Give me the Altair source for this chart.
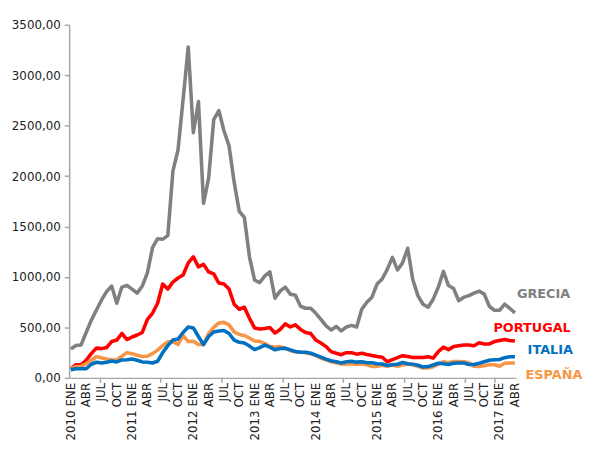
import altair as alt
import pandas as pd

# Monthly values, 2010 ENE .. 2017 ABR (88 months)
greece = [287, 320, 326, 450, 570, 670, 770, 855, 910, 740, 900, 915,
          880, 840, 910, 1040, 1290, 1380, 1375, 1410, 2050, 2260, 2760, 3280,
          2430, 2740, 1730, 1980, 2560, 2650, 2450, 2300, 1940, 1650, 1590, 1200,
          970, 945, 1010, 1050, 790, 860, 900, 830, 820, 710, 690, 690,
          640, 580, 515, 475, 510, 465, 505, 520, 505, 680, 750, 800,
          930, 980, 1075, 1195, 1070, 1140, 1285, 975, 815, 730, 700, 780,
          900, 1055, 915, 885, 765, 800, 815, 840, 860, 830, 710, 670,
          670, 730, 690, 645]
portugal = [90, 130, 130, 175, 240, 295, 290, 300, 360, 375, 440, 380,
            405, 425, 450, 580, 640, 740, 930, 880, 950, 990, 1020, 1140,
            1200, 1100, 1125, 1050, 1030, 940, 930, 880, 730, 680, 700, 590,
            495, 485, 490, 500, 445, 480, 535, 505, 525, 480, 450, 440,
            375, 345, 310, 260, 244, 230, 250, 250, 235, 244, 232, 222,
            212, 205, 160, 180, 200, 220, 212, 202, 202, 202, 210, 196,
            260, 305, 280, 310, 318, 326, 326, 318, 348, 336, 336, 360,
            370, 380, 370, 365]
italy = [80, 90, 90, 90, 135, 155, 148, 155, 168, 158, 178, 180,
         188, 175, 158, 155, 148, 165, 250, 320, 375, 385, 450, 505,
         495, 410, 330, 410, 455, 465, 470, 440, 375, 352, 345, 315,
         280, 300, 325, 305, 278, 292, 293, 278, 262, 254, 254, 244,
         225, 205, 185, 170, 160, 148, 160, 165, 156, 160, 150, 150,
         140, 137, 122, 130, 135, 152, 140, 135, 125, 108, 112, 128,
         145, 140, 133, 145, 147, 147, 132, 132, 145, 160, 175, 179,
         182, 200, 210, 210]
spain = [90, 112, 114, 140, 175, 210, 200, 188, 178, 180, 215, 250,
         240, 225, 212, 215, 240, 275, 320, 358, 358, 332, 420, 360,
         362, 330, 330, 440, 500, 545, 550, 525, 456, 430, 420, 395,
         365, 362, 340, 310, 305, 310, 295, 270, 260, 254, 250, 240,
         220, 195, 180, 160, 150, 138, 135, 140, 132, 137, 130, 114,
         114, 125, 115, 128, 115, 128, 138, 130, 114, 98, 98, 110,
         135, 160, 150, 162, 163, 160, 150, 115, 114, 120, 130, 130,
         115, 145, 147, 147]

countries = ["GRECIA", "PORTUGAL", "ESPAÑA", "ITALIA"]
series = [greece, portugal, spain, italy]
colors = ["#808080", "#ff0000", "#f79646", "#0070c0"]

tick_labels = []
for y in range(2010, 2018):
    for m in ["ENE", "ABR", "JUL", "OCT"]:
        tick_labels.append(f"{y} {m}" if m == "ENE" else m)
tick_labels = tick_labels[:30]  # up to 2017 ABR
tick_values = [3 * k for k in range(len(tick_labels))]
tick_marks = [5.8, 17.6, 29.6, 41.6, 53.4, 65.4, 77.3, 83.1]

label_y = [831, 489, 29, 274]
label_x = [87.4, 82.8, 89.1, 89.5]

rows = []
for name, vals in zip(countries, series):
    for i, v in enumerate(vals):
        rows.append({"pais": name, "t": i, "v": v})
df = pd.DataFrame(rows)

lab_df = pd.DataFrame({"pais": countries, "x": label_x, "y": label_y})
tick_df = pd.DataFrame({"t": tick_marks})
xlab_df = pd.DataFrame({"t": tick_values, "lab": tick_labels})

H = 358
x_scale = alt.Scale(domain=[-0.33, 87.21], nice=False, zero=False)
y_scale = alt.Scale(domain=[0, 3500], nice=False)
color_scale = alt.Scale(domain=countries, range=colors)

x_axis = alt.Axis(
    labels=False, ticks=False, domainColor="#a6a6a6", domainWidth=1.5,
    grid=False, title=None,
)
y_axis = alt.Axis(
    values=[0, 500, 1000, 1500, 2000, 2500, 3000, 3500],
    labelExpr="replace(format(datum.value, '.2f'), '.', ',')",
    labelFontSize=12, labelColor="#222222", labelFont="DejaVu Sans",
    tickSize=5, tickColor="#a6a6a6", tickWidth=1.5, labelPadding=4,
    domainColor="#a6a6a6", domainWidth=1.5, grid=False, title=None,
)

layers = []
for idx, name in enumerate(countries):
    base = alt.Chart(df).transform_filter(alt.datum.pais == name).mark_line(
        strokeWidth=3.6, color=colors[idx], strokeJoin="round"
    )
    if idx == 0:
        layer = base.encode(
            x=alt.X("t:Q", scale=x_scale, axis=x_axis),
            y=alt.Y("v:Q", scale=y_scale, axis=y_axis),
        )
    else:
        layer = base.encode(
            x=alt.X("t:Q", scale=x_scale),
            y=alt.Y("v:Q", scale=y_scale),
        )
    layers.append(layer)

ticks = alt.Chart(tick_df).mark_rule(color="#a6a6a6", strokeWidth=1.5).encode(
    x=alt.X("t:Q", scale=x_scale),
    y=alt.value(H),
    y2=alt.value(H + 5),
)

xlabels = alt.Chart(xlab_df).mark_text(
    angle=270, align="right", baseline="middle", fontSize=12,
    font="DejaVu Sans", color="#222222"
).encode(
    x=alt.X("t:Q", scale=x_scale),
    y=alt.value(H + 5),
    text="lab:N",
)

labels = alt.Chart(lab_df).mark_text(
    align="left", baseline="middle", fontSize=13, fontWeight="bold",
    font="DejaVu Sans"
).encode(
    x=alt.X("x:Q", scale=x_scale),
    y=alt.Y("y:Q", scale=y_scale),
    text="pais:N",
    color=alt.Color("pais:N", scale=color_scale, legend=None),
)

chart = alt.layer(*layers, ticks, xlabels, labels).properties(
    width=453, height=H,
    autosize=alt.AutoSizeParams(type="none"),
    padding={"left": 62, "top": 14, "right": 68, "bottom": 62},
).configure_view(stroke=None)

chart.save("out.html", embed_options={"renderer": "svg", "actions": False})
